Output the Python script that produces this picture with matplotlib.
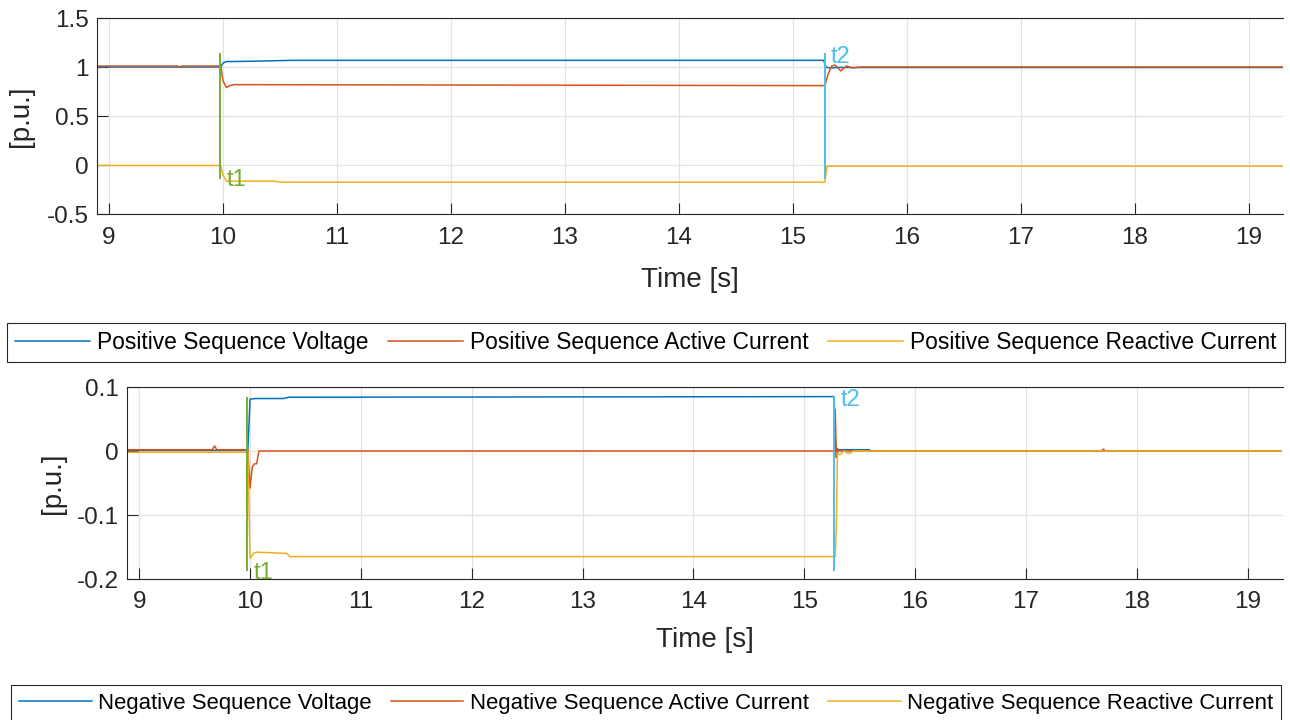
import numpy as np
import matplotlib
matplotlib.use('Agg')
import matplotlib.pyplot as plt

# MATLAB default line colours
BLUE = '#0072BD'
RED = '#D95319'
YELLOW = '#EDB120'
GREEN = '#77AC30'
CYAN = '#4DBEEE'

# --- positive sequence (top panel) ---
pos_v_time = [8.9, 9.98, 10.0, 10.03, 10.3, 10.6, 15.27, 15.29, 15.32, 15.4, 19.3]
pos_v = [1.0, 1.0, 1.04, 1.055, 1.06, 1.068, 1.068, 1.0, 0.99, 0.995, 0.995]

pos_p_time = [8.9, 9.6, 9.62, 9.64, 9.98, 10.0, 10.03, 10.06, 10.1, 15.28, 15.31,
              15.34, 15.37, 15.42, 15.47, 15.52, 15.6, 19.3]
pos_p = [1.01, 1.01, 1.0, 1.01, 1.01, 0.86, 0.79, 0.81, 0.82, 0.81, 0.93,
         1.01, 1.02, 0.96, 1.01, 0.99, 1.0, 1.0]

pos_q_time = [8.9, 9.98, 10.0, 10.03, 10.45, 10.5, 15.28, 15.3, 19.3]
pos_q = [-0.005, -0.005, -0.1, -0.165, -0.165, -0.175, -0.175, -0.012, -0.012]

pos_t1 = [9.97, 9.97]
pos_t1_y = [1.13, -0.13]
pos_t2 = [15.28, 15.28]
pos_t2_y = [1.13, -0.13]

# --- negative sequence (bottom panel) ---
neg_v_time = [8.9, 9.98, 9.99, 10.0, 10.05, 10.3, 10.35, 15.27, 15.28, 15.29,
              15.31, 15.59, 15.6, 19.3]
neg_v = [0.001, 0.001, 0.04, 0.081, 0.082, 0.082, 0.084, 0.085, 0.02, -0.01,
         0.002, 0.002, 0.0, 0.0]

neg_p_time = [8.9, 9.66, 9.68, 9.7, 9.98, 10.0, 10.02, 10.04, 10.06, 10.08,
              15.27, 15.28, 15.29, 15.3, 15.32, 17.68, 17.7, 17.72, 19.3]
neg_p = [0.002, 0.002, 0.008, 0.002, 0.002, -0.058, -0.025, -0.02, -0.02, 0.0,
         0.0, 0.065, -0.01, 0.004, 0.0, 0.0, 0.003, 0.0, 0.0]

neg_q_time = [8.9, 9.98, 10.0, 10.03, 10.06, 10.33, 10.36, 15.28, 15.29, 15.3,
              15.32, 15.36, 15.4, 15.45, 19.3]
neg_q = [-0.002, -0.002, -0.168, -0.16, -0.158, -0.16, -0.165, -0.165, -0.12,
         -0.002, -0.006, 0.0, -0.004, 0.0, 0.0]

neg_t1 = [9.97, 9.97]
neg_t1_y = [0.083, -0.186]
neg_t2 = [15.27, 15.27]
neg_t2_y = [0.085, -0.186]

pos_labels = ['Positive Sequence Voltage', 'Positive Sequence Active Current',
              'Positive Sequence Reactive Current']
neg_labels = ['Negative Sequence Voltage', 'Negative Sequence Active Current',
              'Negative Sequence Reactive Current']

plt.rcParams['font.family'] = ['Liberation Sans', 'DejaVu Sans']


def style_axes(ax, xlim, ylim, yticks, yticklabels):
    ax.set_xlim(*xlim)
    ax.set_ylim(*ylim)
    ax.set_xticks(np.arange(9, 20))
    ax.set_yticks(yticks)
    ax.set_yticklabels(yticklabels)
    ax.grid(True, color='#e3e3e3', linewidth=0.9)
    ax.set_axisbelow(True)
    ax.spines['right'].set_visible(False)
    for s in ['left', 'bottom', 'top']:
        ax.spines[s].set_color('#262626')
        ax.spines[s].set_linewidth(0.8)
    ax.tick_params(direction='in', length=8, width=0.8, color='#262626',
                   labelsize=17.5, labelcolor='#262626')
    ax.tick_params(axis='x', pad=9)
    ax.tick_params(axis='y', pad=6)


def draw_panel(ax, series, labels, t1, t2):
    lines = []
    for (tx, ty), color, lab in zip(series, [BLUE, RED, YELLOW], labels):
        ln, = ax.plot(tx, ty, color=color, linewidth=1.1, label=lab)
        lines.append(ln)
    ax.plot(t1[0], t1[1], color=GREEN, linewidth=1.4)
    ax.plot(t2[0], t2[1], color=CYAN, linewidth=1.4)
    return lines


def main():
    fig = plt.figure(figsize=(12.9, 7.2), dpi=100)
    ax1 = fig.add_axes([97 / 1290, 1 - 214 / 720, 1186 / 1290, 196 / 720])
    ax2 = fig.add_axes([127 / 1290, 1 - 579 / 720, 1156 / 1290, 192 / 720])

    # top panel
    lines1 = draw_panel(ax1, [(pos_v_time, pos_v), (pos_p_time, pos_p), (pos_q_time, pos_q)],
                        pos_labels, (pos_t1, pos_t1_y), (pos_t2, pos_t2_y))
    style_axes(ax1, (8.895, 19.30), (-0.5, 1.5), [-0.5, 0, 0.5, 1, 1.5],
               ['-0.5', '0', '0.5', '1', '1.5'])
    ax1.text(10.03, -0.15, 't1', color=GREEN, fontsize=17, va='center')
    ax1.text(15.33, 1.1, 't2', color=CYAN, fontsize=17, va='center')
    ax1.set_xlabel('Time [s]', fontsize=20, color='#262626', va='center')
    ax1.xaxis.set_label_coords(0.5, -0.337)
    ax1.set_ylabel('[p.u.]', fontsize=20, color='#262626', va='center')
    ax1.yaxis.set_label_coords(-0.064, 0.5)

    # bottom panel
    lines2 = draw_panel(ax2, [(neg_v_time, neg_v), (neg_p_time, neg_p), (neg_q_time, neg_q)],
                        neg_labels, (neg_t1, neg_t1_y), (neg_t2, neg_t2_y))
    style_axes(ax2, (8.89, 19.32), (-0.2, 0.1), [-0.2, -0.1, 0, 0.1],
               ['-0.2', '-0.1', '0', '0.1'])
    ax2.text(10.03, -0.19, 't1', color=GREEN, fontsize=17, va='center')
    ax2.text(15.33, 0.08, 't2', color=CYAN, fontsize=17, va='center')
    ax2.set_xlabel('Time [s]', fontsize=20, color='#262626', va='center')
    ax2.xaxis.set_label_coords(0.5, -0.318)
    ax2.set_ylabel('[p.u.]', fontsize=20, color='#262626', va='center')
    ax2.yaxis.set_label_coords(-0.064, 0.5)

    # legends between / below panels
    for lines, labels, yc, fs in [(lines1, pos_labels, 1 - 342.5 / 720, 16.4),
                                  (lines2, neg_labels, 1 - 703.5 / 720, 15.9)]:
        leg = fig.legend(lines, labels, loc='center', bbox_to_anchor=(646 / 1290, yc),
                         ncol=3, fontsize=fs, handlelength=3.3, handletextpad=0.3,
                         columnspacing=0.85, borderpad=0.35, fancybox=False,
                         framealpha=1, edgecolor='#262626')
        leg.get_frame().set_linewidth(0.8)

    fig.savefig('out.png', dpi=100)
    plt.close(fig)


if __name__ == "__main__":
    main()
